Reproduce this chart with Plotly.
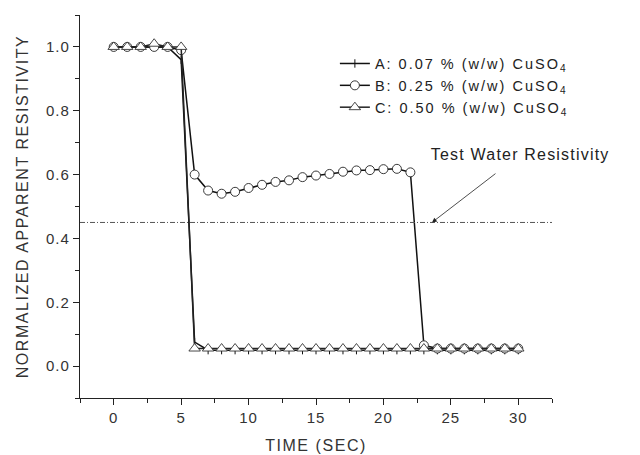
import plotly.graph_objects as go

time_s = list(range(0, 31))
series_a = [1.0, 1.0, 1.0, 1.0, 1.0, 0.96, 0.075] + [0.05] * 24
series_b = [1.0, 1.0, 1.0, 1.0, 1.0, 0.99, 0.60, 0.55, 0.54, 0.546, 0.558, 0.568,
            0.577, 0.582, 0.592, 0.597, 0.602, 0.609, 0.613, 0.614, 0.617, 0.618,
            0.607, 0.065, 0.055, 0.055, 0.055, 0.055, 0.055, 0.055, 0.055]
series_c = [1.0, 1.0, 1.0, 1.01, 1.0, 1.0] + [0.055] * 25
names = ["A: 0.07 % (w/w) CuSO<sub>4</sub>",
         "B: 0.25 % (w/w) CuSO<sub>4</sub>",
         "C: 0.50 % (w/w) CuSO<sub>4</sub>"]
test_water = 0.45

FONT = "Liberation Sans, Arial, sans-serif"
fig = go.Figure()
fig.add_trace(go.Scatter(x=time_s, y=series_a, name=names[0], mode="lines+markers",
                         line=dict(color="#111", width=1.5),
                         marker=dict(symbol="line-ns-open", size=6,
                                     line=dict(color="#111", width=1))))
fig.add_trace(go.Scatter(x=time_s, y=series_b, name=names[1], mode="lines+markers",
                         line=dict(color="#111", width=1.5),
                         marker=dict(symbol="circle", size=9, color="white",
                                     line=dict(color="#222", width=0.9))))
fig.add_trace(go.Scatter(x=time_s, y=series_c, name=names[2], mode="lines+markers",
                         line=dict(color="#222", width=1.5),
                         marker=dict(symbol="triangle-up", size=10, color="white",
                                     line=dict(color="#333", width=0.9))))

fig.add_shape(type="line", xref="paper", x0=0, x1=1, yref="y", y0=test_water, y1=test_water,
              line=dict(color="#555", width=1, dash="5px,2px,1px,2px"))
fig.add_annotation(x=23.6, y=test_water, ax=65, ay=-50, text="", showarrow=True,
                   arrowhead=2, arrowsize=1.2, arrowwidth=0.8, arrowcolor="#222")
fig.add_annotation(x=1.0, xref="paper", xanchor="left", y=0.662, yref="y", yanchor="middle",
                   text="Test Water Resistivity", showarrow=False,
                   font=dict(family=FONT, size=16, color="#222"), xshift=-110)

axis_common = dict(showline=True, linecolor="#222", linewidth=1.2, ticks="outside",
                   ticklen=6, tickwidth=1.2, tickcolor="#222", showgrid=False,
                   zeroline=False, mirror=False, automargin=False,
                   tickfont=dict(family=FONT, size=15, color="#333"))
fig.update_xaxes(range=[-2.5, 32.5], dtick=5, tick0=0,
                 minor=dict(dtick=2.5, tick0=0, ticks="outside", ticklen=4, tickcolor="#222"),
                 title=dict(text="TIME (SEC)", font=dict(family=FONT, size=16, color="#333"),
                            standoff=14),
                 **axis_common)
fig.update_yaxes(range=[-0.1, 1.1], dtick=0.2, tick0=0, tickformat=".1f",
                 minor=dict(dtick=0.1, tick0=0, ticks="outside", ticklen=4, tickcolor="#222"),
                 title=dict(text="NORMALIZED APPARENT RESISTIVITY",
                            font=dict(family=FONT, size=16, color="#333"), standoff=16),
                 **axis_common)
fig.update_layout(width=640, height=455, margin=dict(l=80, r=88, t=15, b=57),
                  plot_bgcolor="white", paper_bgcolor="white",
                  legend=dict(x=0.54, y=0.915, xanchor="left", yanchor="top",
                              bgcolor="rgba(0,0,0,0)", tracegroupgap=0,
                              font=dict(family=FONT, size=14.5, color="#222")),
                  showlegend=True)
fig.write_html("out.html", post_script="""
document.querySelectorAll('.legend [clip-path]').forEach(function(e){e.removeAttribute('clip-path');});
document.querySelectorAll('.legend').forEach(function(e){e.removeAttribute('clip-path');});
document.querySelectorAll('.xtitle, .ytitle').forEach(function(t){t.style.letterSpacing='1.55px';});
document.querySelectorAll('.legendtext').forEach(function(t){t.style.letterSpacing='2px';});
document.querySelectorAll('.annotation-text').forEach(function(t){t.style.letterSpacing='1.2px';});
document.querySelectorAll('.xtick text, .ytick text').forEach(function(t){t.style.letterSpacing='1px';});
""")
